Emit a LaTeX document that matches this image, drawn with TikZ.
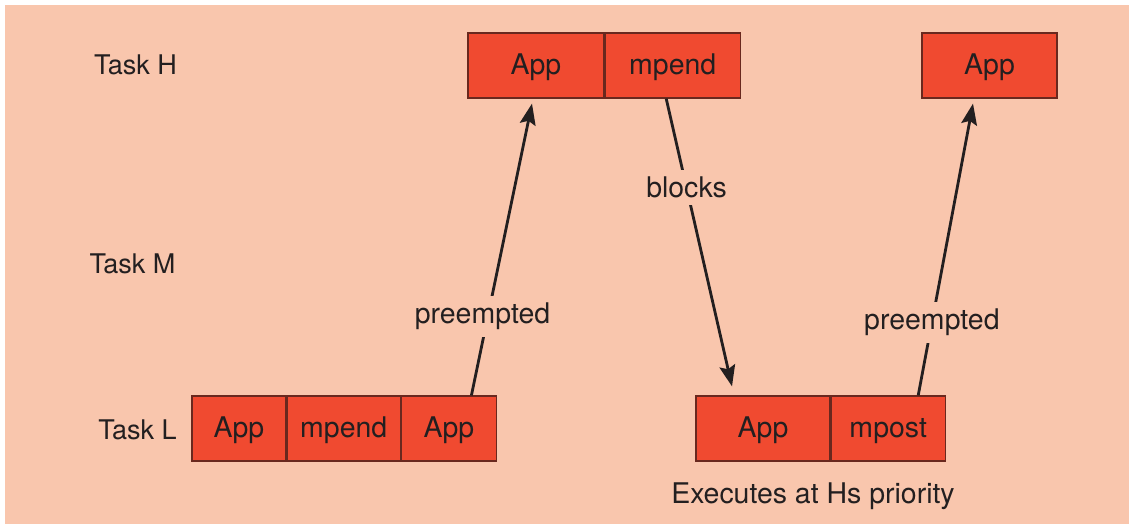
\documentclass[tikz,border=0pt]{standalone}
\usepackage{fontspec}
\setmainfont{TeX Gyre Heros}
\usepackage{tikz}
\usetikzlibrary{arrows.meta,positioning,calc}
\definecolor{hintergrund}{RGB}{249,198,173}
\definecolor{balken}{RGB}{240,74,48}
\definecolor{rahmen}{RGB}{105,40,30}
\definecolor{schrift}{RGB}{35,31,32}
\tikzset{
  abschnitt/.style={rectangle, draw=rahmen, line width=0.7pt, fill=balken, minimum height=1.3cm, inner sep=0pt, text height=12pt, text depth=1.2pt, text=schrift, font=\fontsize{16.2}{19}\selectfont},
  tasklabel/.style={anchor=base, text=schrift, font=\fontsize{15.4}{18}\selectfont},
  pfeil/.style={draw=schrift, line width=1.6pt, -{Stealth[length=12pt,width=9pt,inset=2pt]}},
  pfeillabel/.style={fill=hintergrund, text=schrift, inner sep=4pt, font=\fontsize{16.2}{19}\selectfont}
}

\begin{document}
\begin{tikzpicture}[x=0.02cm, y=-0.02cm]

\fill[white] (0,0) rectangle (1129,524);
\fill[hintergrund] (5,5) rectangle (1129,524);
\useasboundingbox (0,0) rectangle (1129,524);

\node[tasklabel] (task-h) at (135.5,74) {Task H};
\node[tasklabel] (task-m) at (132.5,273) {Task M};
\node[tasklabel] (task-l) at (137.5,439) {Task L};

% Task H
\node[abschnitt, minimum width=2.72cm] (h-app1) at (536,65.5) {App};
\node[abschnitt, minimum width=2.70cm, right=0pt of h-app1] (h-mpend) {mpend};
\node[abschnitt, minimum width=2.70cm] (h-app2) at (989.5,65.5) {App};

% Task L
\node[abschnitt, minimum width=1.88cm] (l-app1) at (239,428.5) {App};
\node[abschnitt, minimum width=2.26cm, right=0pt of l-app1] (l-mpend) {mpend};
\node[abschnitt, minimum width=1.90cm, right=0pt of l-mpend] (l-app2) {App};
\node[abschnitt, minimum width=2.68cm] (l-app3) at (763,428.5) {App};
\node[abschnitt, minimum width=2.28cm, right=0pt of l-app3] (l-mpost) {mpost};

\node[tasklabel, font=\fontsize{16.2}{19}\selectfont] (prio) at (813,503) {Executes at Hs priority};

\draw[pfeil] ($(l-app2.north)+(22.5,0)$) -- ($(h-app1.south)+(-4,5)$)
  node[pfeillabel, pos=0.27, xshift=-3pt] {preempted};
\draw[pfeil] ($(h-mpend.south)+(-6.5,0)$) -- ($(l-app3.north)+(-31,-9)$)
  node[pfeillabel, pos=0.31] {blocks};
\draw[pfeil] ($(l-mpost.north)+(30,0)$) -- ($(h-app2.south)+(-16.5,5)$)
  node[pfeillabel, pos=0.25] {preempted};

\end{tikzpicture}
\end{document}
